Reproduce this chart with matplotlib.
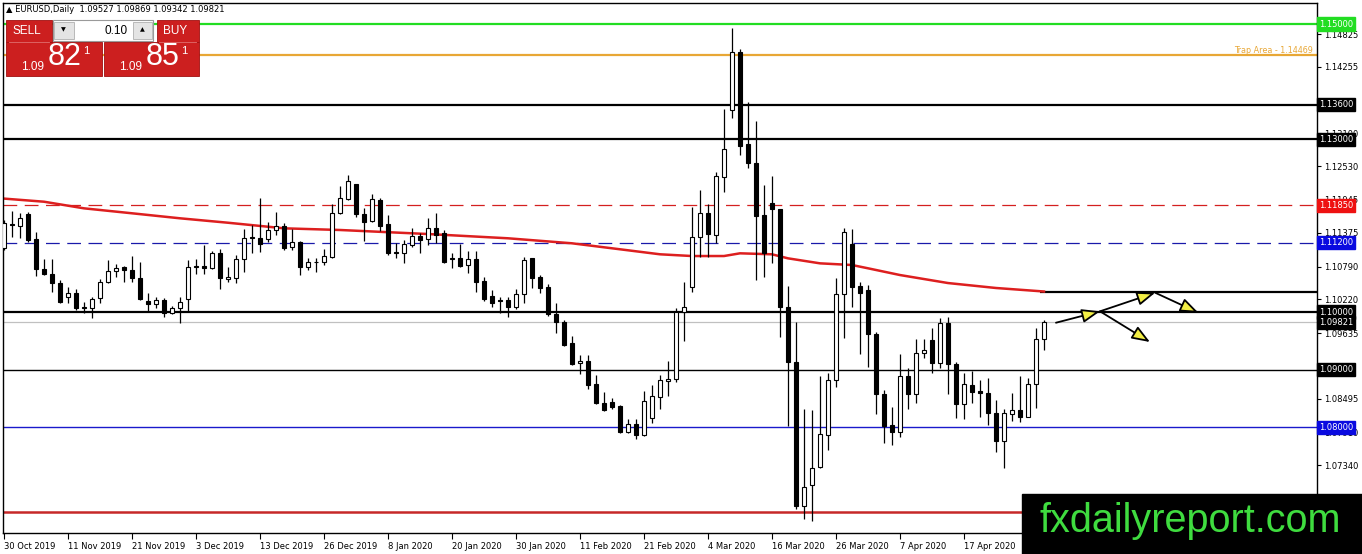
import matplotlib.pyplot as plt
from matplotlib.patches import Rectangle, FancyArrowPatch
from matplotlib.transforms import blended_transform_factory

# daily EURUSD candles, 30 Oct 2019 .. 24 Apr 2020
opens = [1.11106, 1.11523, 1.11498, 1.11696, 1.11262, 1.10747, 1.10655, 1.10498, 1.10255, 1.10325,
         1.10092, 1.10064, 1.10238, 1.10516, 1.10712, 1.10776, 1.10729, 1.10585, 1.10191, 1.10134,
         1.10208, 1.09977, 1.10064, 1.10220, 1.10793, 1.10799, 1.10759, 1.11019, 1.10568, 1.10590,
         1.10915, 1.11302, 1.11290, 1.11262, 1.11424, 1.11493, 1.11123, 1.11220, 1.10786, 1.10873,
         1.10863, 1.10960, 1.11724, 1.11957, 1.12217, 1.11696, 1.11585, 1.11944, 1.11523, 1.11036,
         1.11030, 1.11163, 1.11319, 1.11267, 1.11464, 1.11366, 1.10932, 1.10932, 1.10816, 1.10915,
         1.10538, 1.10278, 1.10203, 1.10208, 1.10092, 1.10313, 1.10932, 1.10613, 1.10439, 1.09960,
         1.09821, 1.09457, 1.09109, 1.09149, 1.08750, 1.08425, 1.08432, 1.08368, 1.07911, 1.08050,
         1.07865, 1.08155, 1.08530, 1.08807, 1.08832, 1.10005, 1.10439, 1.11307, 1.11714, 1.11337,
         1.12349, 1.13507, 1.14509, 1.12917, 1.12582, 1.11684, 1.11887, 1.11783, 1.10082, 1.09137,
         1.06637, 1.06997, 1.07304, 1.07865, 1.08819, 1.10307, 1.11181, 1.10451, 1.10382, 1.09618,
         1.08571, 1.08038, 1.07922, 1.08894, 1.08571, 1.09283, 1.09514, 1.09109, 1.09814, 1.09097,
         1.08398, 1.08733, 1.08634, 1.08589, 1.08241, 1.07766, 1.08224, 1.08299, 1.08182, 1.08745,
         1.09527]
highs = [1.11597, 1.11753, 1.11714, 1.11741, 1.11384, 1.10915, 1.10915, 1.10556, 1.10429, 1.10394,
         1.10179, 1.10266, 1.10573, 1.10903, 1.10828, 1.10799, 1.10972, 1.10873, 1.10325, 1.10255,
         1.10238, 1.10104, 1.10266, 1.10903, 1.10915, 1.11163, 1.11064, 1.11089, 1.10776, 1.10990,
         1.11441, 1.11510, 1.11979, 1.11568, 1.11736, 1.11545, 1.11441, 1.11233, 1.10938, 1.10943,
         1.11094, 1.11870, 1.12193, 1.12378, 1.12220, 1.11800, 1.12043, 1.11974, 1.11684, 1.11193,
         1.11250, 1.11453, 1.11366, 1.11637, 1.11714, 1.11424, 1.11019, 1.11181, 1.11064, 1.11064,
         1.10602, 1.10382, 1.10255, 1.10266, 1.10394, 1.10950, 1.10940, 1.10642, 1.10486, 1.10151,
         1.09861, 1.09583, 1.09253, 1.09253, 1.08906, 1.08616, 1.08502, 1.08385, 1.08137, 1.08137,
         1.08634, 1.08733, 1.08906, 1.09155, 1.10064, 1.10526, 1.11828, 1.12118, 1.11875, 1.12436,
         1.13519, 1.14925, 1.14561, 1.13651, 1.13316, 1.12205, 1.12361, 1.11790, 1.10451, 1.09821,
         1.08311, 1.08299, 1.08889, 1.08946, 1.10585, 1.11453, 1.11436, 1.10526, 1.10469, 1.09658,
         1.08646, 1.08356, 1.09271, 1.09023, 1.09526, 1.09526, 1.09727, 1.09891, 1.09918, 1.09137,
         1.08936, 1.08976, 1.08819, 1.08849, 1.08472, 1.08311, 1.08599, 1.08889, 1.08859, 1.09717,
         1.09869]
lows = [1.11076, 1.11307, 1.11280, 1.11220, 1.10630, 1.10650, 1.10352, 1.10161, 1.10161, 1.10035,
        1.09977, 1.09891, 1.10151, 1.10498, 1.10613, 1.10526, 1.10526, 1.10208, 1.10017, 1.10064,
        1.09918, 1.09970, 1.09804, 1.10017, 1.10655, 1.10655, 1.10741, 1.10394, 1.10521, 1.10503,
        1.10694, 1.11024, 1.11042, 1.11220, 1.11337, 1.11076, 1.11076, 1.10642, 1.10729, 1.10700,
        1.10816, 1.10932, 1.11696, 1.11944, 1.11655, 1.11233, 1.11568, 1.11406, 1.10990, 1.10932,
        1.10845, 1.11134, 1.11019, 1.11163, 1.11193, 1.10845, 1.10759, 1.10786, 1.10682, 1.10352,
        1.10191, 1.10092, 1.09977, 1.09918, 1.10052, 1.10161, 1.10422, 1.10325, 1.09931, 1.09641,
        1.09410, 1.09080, 1.08918, 1.08658, 1.08403, 1.08286, 1.08311, 1.07894, 1.07894, 1.07790,
        1.07847, 1.08068, 1.08311, 1.08542, 1.08790, 1.09502, 1.10352, 1.10960, 1.10960, 1.11203,
        1.12089, 1.13363, 1.12726, 1.12495, 1.10556, 1.10608, 1.10845, 1.09561, 1.08021, 1.06575,
        1.06401, 1.06377, 1.07290, 1.07604, 1.08703, 1.09543, 1.10092, 1.09271, 1.09050, 1.08224,
        1.07731, 1.07691, 1.07835, 1.08311, 1.08415, 1.09207, 1.08936, 1.09033, 1.08571, 1.08165,
        1.08137, 1.08425, 1.08172, 1.08038, 1.07575, 1.07286, 1.08113, 1.08096, 1.08170, 1.08339,
        1.09342]
closes = [1.11540, 1.11510, 1.11627, 1.11250, 1.10741, 1.10655, 1.10498, 1.10179, 1.10325, 1.10075,
          1.10064, 1.10226, 1.10516, 1.10712, 1.10769, 1.10724, 1.10585, 1.10220, 1.10134, 1.10208,
          1.09977, 1.10064, 1.10168, 1.10776, 1.10776, 1.10759, 1.11019, 1.10595, 1.10613, 1.10915,
          1.11280, 1.11280, 1.11175, 1.11424, 1.11493, 1.11116, 1.11210, 1.10786, 1.10873, 1.10863,
          1.10972, 1.11714, 1.11974, 1.12274, 1.11696, 1.11568, 1.11957, 1.11493, 1.11019, 1.11024,
          1.11181, 1.11325, 1.11250, 1.11464, 1.11337, 1.10873, 1.10920, 1.10804, 1.10915, 1.10526,
          1.10226, 1.10161, 1.10191, 1.10092, 1.10313, 1.10903, 1.10595, 1.10422, 1.09960, 1.09821,
          1.09427, 1.09097, 1.09149, 1.08727, 1.08415, 1.08299, 1.08356, 1.07911, 1.08050, 1.07865,
          1.08460, 1.08542, 1.08819, 1.08832, 1.10005, 1.10092, 1.11307, 1.11714, 1.11349, 1.12361,
          1.12825, 1.14509, 1.12887, 1.12582, 1.11672, 1.11033, 1.11783, 1.10082, 1.09137, 1.06637,
          1.06957, 1.07286, 1.07882, 1.08819, 1.10313, 1.11384, 1.10439, 1.10325, 1.09618, 1.08571,
          1.08021, 1.07922, 1.08894, 1.08571, 1.09283, 1.09340, 1.09120, 1.09814, 1.09092, 1.08398,
          1.08745, 1.08616, 1.08589, 1.08241, 1.07766, 1.08241, 1.08299, 1.08182, 1.08745, 1.09526,
          1.09821]

# moving average (red curve), sampled at these bar numbers
ma_bars = [0, 5, 10, 16, 22, 28, 35, 42, 53, 63, 71, 77, 82, 86, 90, 92, 96, 98, 102, 106, 108, 112, 118, 124, 130]
ma_vals = [1.11969, 1.11915, 1.11800, 1.11714, 1.11627, 1.11550, 1.11453, 1.11424, 1.11354, 1.11280,
           1.11193, 1.11089, 1.11002, 1.10972, 1.10972, 1.11019, 1.11002, 1.10932, 1.10845, 1.10816,
           1.10759, 1.10642, 1.10503, 1.10417, 1.10356]

date_bars = [0, 8, 16, 24, 32, 40, 48, 56, 64, 72, 80, 88, 96, 104, 112, 120]
date_labels = ['30 Oct 2019', '11 Nov 2019', '21 Nov 2019', '3 Dec 2019', '13 Dec 2019', '26 Dec 2019',
               '8 Jan 2020', '20 Jan 2020', '30 Jan 2020', '11 Feb 2020', '21 Feb 2020', '4 Mar 2020',
               '16 Mar 2020', '26 Mar 2020', '7 Apr 2020', '17 Apr 2020']

price_ticks = [1.14825, 1.14255, 1.13685, 1.13100, 1.12530, 1.11945, 1.11375, 1.10790,
               1.10220, 1.09635, 1.09065, 1.08495, 1.07910, 1.07340, 1.06770]
# these two sit fully under a level box on the reference, so only the tick mark shows
hidden_ticks = [1.13685, 1.09065]

# horizontal levels drawn on the chart: (price, colour, width, style, label box colour)
levels = [
    (1.15000, '#22dd22', 1.6, '-', '#22dd22'),
    (1.13600, 'black', 1.6, '-', 'black'),
    (1.13000, 'black', 1.6, '-', 'black'),
    (1.11850, '#d42020', 0.9, (0, (11, 6)), '#ee1111'),
    (1.11200, '#1a1aaa', 0.9, (0, (11, 6)), '#0a0ae0'),
    (1.10000, 'black', 1.6, '-', 'black'),
    (1.09821, '#c0c0c0', 0.9, '-', 'black'),
    (1.09000, 'black', 1.0, '-', 'black'),
    (1.08000, '#1a1acc', 1.0, '-', '#0a0ae0'),
    (1.06530, '#c62828', 1.8, '-', None),
]
trap_level = 1.14469
ray_level = 1.10340
ray_start = 129.5

# hand drawn arrows (bar, price) -> (bar, price)
arrow_from = [(131.5, 1.09814), (137.0, 1.10012), (137.0, 1.10012), (143.9, 1.10335)]
arrow_to = [(137.0, 1.10012), (143.9, 1.10335), (143.25, 1.09479), (149.3, 1.09988)]

W, H = 1362, 554
fig = plt.figure(figsize=(W / 100, H / 100), dpi=100)
fig.patch.set_facecolor('white')
ax = fig.add_axes([3 / W, (H - 533.3) / H, 1313.7 / W, 530.3 / H])
ax.set_xlim(-0.125, 164.09)
ax.set_ylim(1.06158, 1.15365)
for s in ax.spines.values():
    s.set_color('black')
    s.set_linewidth(1.0)

# levels
for lvl, col, lw, ls, box in levels:
    ax.axhline(lvl, color=col, lw=lw, ls=ls, zorder=1)
ax.axhline(trap_level, color='#e8a735', lw=1.6, zorder=1)
ax.hlines(ray_level, ray_start, 164.09, color='black', lw=1.6, zorder=1)

# moving average
ax.plot(ma_bars, ma_vals, color='#dd1f1f', lw=1.8, zorder=2)

# candles
bars = list(range(len(opens)))
ax.vlines(bars, lows, highs, color='black', lw=0.9, zorder=3)
for i in bars:
    o, c = opens[i], closes[i]
    fc = 'white' if c > o else 'black'
    ax.bar(i, max(abs(c - o), 0.00004), bottom=min(o, c), width=0.62,
           color=fc, edgecolor='black', linewidth=0.8, zorder=4)

# arrows
for p0, p1 in zip(arrow_from, arrow_to):
    ax.add_patch(FancyArrowPatch(p0, p1, arrowstyle='-|>,head_length=1.1,head_width=0.42',
                                 mutation_scale=10, fc='#f2ee44', ec='black', lw=1.3,
                                 shrinkA=0, shrinkB=0, zorder=6))

# axis ticks and labels
ax.yaxis.tick_right()
ax.set_yticks(price_ticks)
ax.set_yticklabels(['' if t in hidden_ticks else '%.5f' % t for t in price_ticks])
ax.tick_params(axis='y', length=3, width=0.8, pad=2, labelsize=6, colors='black')
ax.set_xticks(date_bars)
ax.set_xticklabels(date_labels, ha='left')
ax.tick_params(axis='x', length=4, width=0.8, pad=2, labelsize=6)
for lab in ax.get_xticklabels():
    lab.set_horizontalalignment('left')

# price boxes on the right scale
trans = blended_transform_factory(ax.transAxes, ax.transData)
for lvl, col, lw, ls, box in levels:
    if box is None:
        continue
    ax.text(1.0015, lvl, '%.5f' % lvl, transform=trans, ha='left', va='center', fontsize=6,
            color='white', zorder=8, clip_on=False,
            bbox=dict(boxstyle='square,pad=0.25', fc=box, ec=box))
ax.text(0.9972, trap_level, 'Trap Area - %.5f' % trap_level, transform=trans, ha='right', va='bottom',
        fontsize=5.8, color='#e8a735', zorder=8)

# overlay in pixel coordinates for the trade panel, header and watermark
ov = fig.add_axes([0, 0, 1, 1], zorder=10)
ov.set_xlim(0, W)
ov.set_ylim(H, 0)
ov.axis('off')
ov.patch.set_alpha(0)

ov.text(6, 10, '\u25b2 EURUSD,Daily  %.5f %.5f %.5f %.5f' % (opens[-1], highs[-1], lows[-1], closes[-1]),
        fontsize=6, va='center', ha='left', color='black')

red = '#cc1f1f'
ov.add_patch(Rectangle((6, 20), 46, 22, fc=red, ec='#a01010', lw=0.6))
ov.add_patch(Rectangle((156.5, 20), 42.5, 22, fc=red, ec='#a01010', lw=0.6))
ov.add_patch(Rectangle((52.5, 20), 100, 20.5, fc='white', ec='#9a9a9a', lw=0.8))
ov.add_patch(Rectangle((54, 21.5), 19.5, 17.5, fc='#e4e4e4', ec='#b0b0b0', lw=0.6))
ov.add_patch(Rectangle((132.5, 21.5), 19, 17.5, fc='#e4e4e4', ec='#b0b0b0', lw=0.6))
ov.add_patch(Rectangle((6, 42), 95.5, 34, fc=red, ec='#a01010', lw=0.6))
ov.add_patch(Rectangle((104, 42), 95, 34, fc=red, ec='#a01010', lw=0.6))
ov.plot([9, 49], [41.5, 41.5], color='#e87070', lw=0.6)
ov.plot([159, 196], [41.5, 41.5], color='#e87070', lw=0.6)

sans = 'Liberation Sans'
ov.text(27, 31, 'SELL', fontsize=8.5, color='white', ha='center', va='center', family=sans)
ov.text(175, 31, 'BUY', fontsize=8.5, color='white', ha='center', va='center', family=sans)
ov.text(63.5, 30, '\u25bc', fontsize=4.5, ha='center', va='center')
ov.text(142, 30, '\u25b2', fontsize=4.5, ha='center', va='center')
ov.text(127.5, 30.5, '0.10', fontsize=8.5, ha='right', va='center', family=sans)

for x0, big in [(6, '82'), (104, '85')]:
    ov.text(x0 + 26.5, 67, '1.09', fontsize=8.5, color='white', ha='center', va='center', family=sans)
    ov.text(x0 + 59, 57, big, fontsize=22, color='white', ha='center', va='center', family=sans)
    ov.text(x0 + 80, 51, '1', fontsize=8, color='white', ha='center', va='center', family=sans)

# watermark
ov.add_patch(Rectangle((1022, 494), 340, 60, fc='black', ec='black'))
ov.text(1190, 521, 'fxdailyreport.com', fontsize=28.5, color='#3fdc3f', ha='center', va='center',
        family=sans)

plt.savefig('out.png', dpi=100)
